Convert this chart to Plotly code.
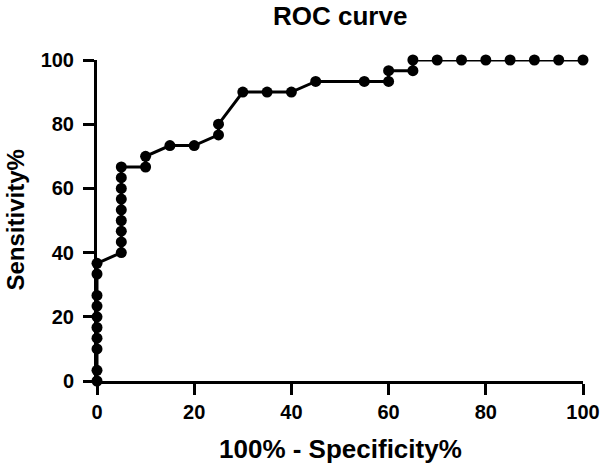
import plotly.graph_objects as go

fpr = [0, 0, 0, 0, 0, 0, 0, 0, 0, 0,
       5, 5, 5, 5, 5, 5, 5, 5, 5,
       10, 10, 15, 20, 25, 25, 30, 35, 40, 45, 55, 60, 60, 65, 65,
       70, 75, 80, 85, 90, 95, 100]
tpr = [0, 3.33, 10, 13.33, 16.67, 20, 23.33, 26.67, 33.33, 36.67,
       40, 43.33, 46.67, 50, 53.33, 56.67, 60, 63.33, 66.67,
       66.67, 70, 73.33, 73.33, 76.67, 80, 90, 90, 90, 93.33, 93.33, 93.33, 96.67, 96.67, 100,
       100, 100, 100, 100, 100, 100, 100]
tick_vals = [0, 20, 40, 60, 80, 100]

fig = go.Figure()
fig.add_trace(go.Scatter(
    x=fpr, y=tpr, mode="lines+markers",
    line=dict(color="black", width=3),
    marker=dict(color="black", size=11),
    cliponaxis=False, showlegend=False,
))

font = "Liberation Sans, Arial, sans-serif"
axis_common = dict(
    range=[0, 100], tickvals=tick_vals, showgrid=False, zeroline=False,
    showline=True, linecolor="black", linewidth=3,
    ticks="outside", ticklen=11, tickwidth=3, tickcolor="black",
    tickfont=dict(family=font, size=20, color="black", weight="bold"),
    automargin=False, ticklabeloverflow="allow",
)
fig.update_xaxes(**axis_common)
fig.update_yaxes(**axis_common, ticklabelstandoff=5)

fig.add_annotation(text="<b>100% - Specificity%</b>", xref="paper", yref="paper",
                   x=0.5, y=-0.212, xanchor="center", yanchor="middle", showarrow=False,
                   font=dict(family=font, size=26, color="black"))
fig.add_annotation(text="<b>Sensitivity%</b>", xref="paper", yref="paper",
                   x=-0.1687, y=0.5, xanchor="center", yanchor="middle", showarrow=False,
                   textangle=-90, font=dict(family=font, size=24, color="black"))
fig.add_annotation(text="<b>ROC curve</b>", xref="paper", yref="paper",
                   x=0.5, y=1.137, xanchor="center", yanchor="middle", showarrow=False,
                   font=dict(family=font, size=26, color="black"))

fig.update_layout(
    width=600, height=467,
    margin=dict(l=97, r=17, t=60, b=86),
    plot_bgcolor="white", paper_bgcolor="white",
)
fig.write_html("out.html", config={"displayModeBar": False},
               post_script="document.body.style.margin='0';document.body.style.overflow='hidden';")
